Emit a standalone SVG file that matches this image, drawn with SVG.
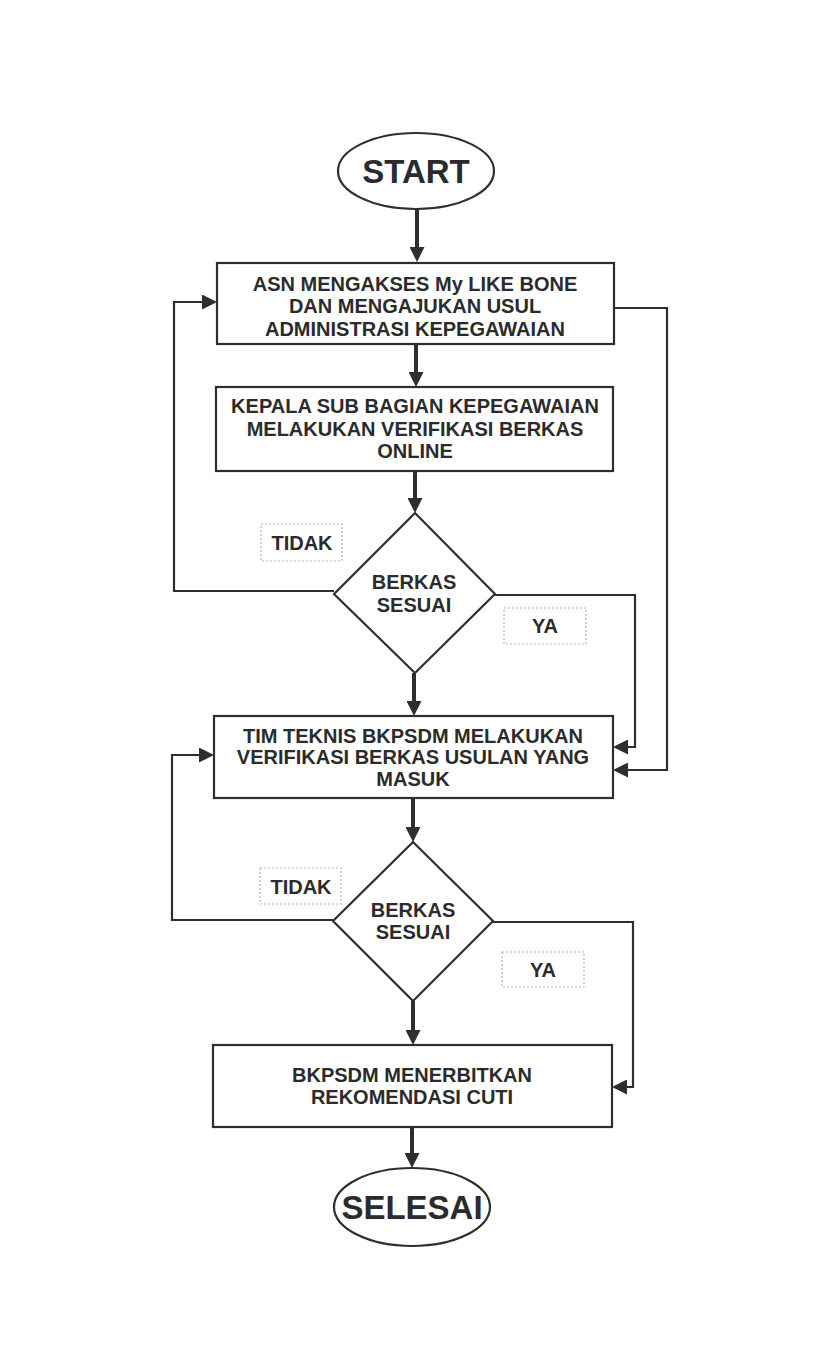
<svg xmlns="http://www.w3.org/2000/svg" width="827" height="1365" viewBox="0 0 827 1365">
<style>
.shape{fill:#fff;stroke:#2e2e2e;stroke-width:2.2}
.lbl{fill:#fff;stroke:#b5b5b5;stroke-width:1.2;stroke-dasharray:2 2}
.t{font-family:"Liberation Sans",Arial,sans-serif;font-weight:bold;font-size:20px;fill:#2b2b2b;text-anchor:middle}
.big{font-size:33px}
.main{fill:none;stroke:#2e2e2e;stroke-width:4}
.loop{fill:none;stroke:#2e2e2e;stroke-width:2.2}
</style>
<defs>
<marker id="ah" markerUnits="userSpaceOnUse" markerWidth="15" markerHeight="15" viewBox="0 0 15 15" refX="5" refY="7.5" orient="auto">
<path d="M0,0 L15,7.5 L0,15 Z" fill="#2e2e2e"/>
</marker>
</defs>
<rect width="827" height="1365" fill="#fff"/>
<g id="connectors">
<path class="main" d="M417,209 V252" marker-end="url(#ah)"/>
<path class="main" d="M416,344 V377" marker-end="url(#ah)"/>
<path class="main" d="M415,471 V503" marker-end="url(#ah)"/>
<path class="main" d="M414,673 V706" marker-end="url(#ah)"/>
<path class="main" d="M413,798 V832" marker-end="url(#ah)"/>
<path class="main" d="M413,1001 V1035" marker-end="url(#ah)"/>
<path class="main" d="M412,1127 V1158" marker-end="url(#ah)"/>
<path class="loop" d="M334,591 H174 V302 H207" marker-end="url(#ah)"/>
<path class="loop" d="M495,595 H635 V747 H623" marker-end="url(#ah)"/>
<path class="loop" d="M614,308 H667 V770 H623" marker-end="url(#ah)"/>
<path class="loop" d="M333,920 H172 V755 H204" marker-end="url(#ah)"/>
<path class="loop" d="M493,922 H633 V1087 H622" marker-end="url(#ah)"/>
</g>
<g id="start">
<ellipse class="shape" cx="416" cy="171" rx="78" ry="38"/>
<text class="t big" x="416" y="183">START</text>
</g>
<g id="box1">
<rect class="shape" x="217" y="263" width="397" height="81"/>
<text class="t" x="415" y="291">ASN MENGAKSES My LIKE BONE</text>
<text class="t" x="415" y="313">DAN MENGAJUKAN USUL</text>
<text class="t" x="415" y="336">ADMINISTRASI KEPEGAWAIAN</text>
</g>
<g id="box2">
<rect class="shape" x="216" y="387" width="397" height="84"/>
<text class="t" x="415" y="413">KEPALA SUB BAGIAN KEPEGAWAIAN</text>
<text class="t" x="415" y="436">MELAKUKAN VERIFIKASI BERKAS</text>
<text class="t" x="415" y="458">ONLINE</text>
</g>
<g id="decision1">
<polygon class="shape" points="415,513 495,594 415,673 334,594"/>
<text class="t" x="414" y="589">BERKAS</text>
<text class="t" x="414" y="612">SESUAI</text>
</g>
<g id="tidak1">
<rect class="lbl" x="261" y="524" width="81" height="37"/>
<text class="t" x="302" y="550">TIDAK</text>
</g>
<g id="ya1">
<rect class="lbl" x="504" y="608" width="82" height="36"/>
<text class="t" x="545" y="633">YA</text>
</g>
<g id="box3">
<rect class="shape" x="214" y="716" width="399" height="82"/>
<text class="t" x="413" y="743">TIM TEKNIS BKPSDM MELAKUKAN</text>
<text class="t" x="413" y="764">VERIFIKASI BERKAS USULAN YANG</text>
<text class="t" x="413" y="786">MASUK</text>
</g>
<g id="decision2">
<polygon class="shape" points="413,842 493,921 413,1001 333,921"/>
<text class="t" x="413" y="917">BERKAS</text>
<text class="t" x="413" y="939">SESUAI</text>
</g>
<g id="tidak2">
<rect class="lbl" x="260" y="868" width="81" height="36"/>
<text class="t" x="301" y="894">TIDAK</text>
</g>
<g id="ya2">
<rect class="lbl" x="502" y="952" width="82" height="35"/>
<text class="t" x="543" y="977">YA</text>
</g>
<g id="box4">
<rect class="shape" x="213" y="1045" width="399" height="82"/>
<text class="t" x="412" y="1082">BKPSDM MENERBITKAN</text>
<text class="t" x="412" y="1104">REKOMENDASI CUTI</text>
</g>
<g id="selesai">
<ellipse class="shape" cx="412" cy="1207" rx="78" ry="39"/>
<text class="t big" x="412" y="1219">SELESAI</text>
</g>
</svg>
